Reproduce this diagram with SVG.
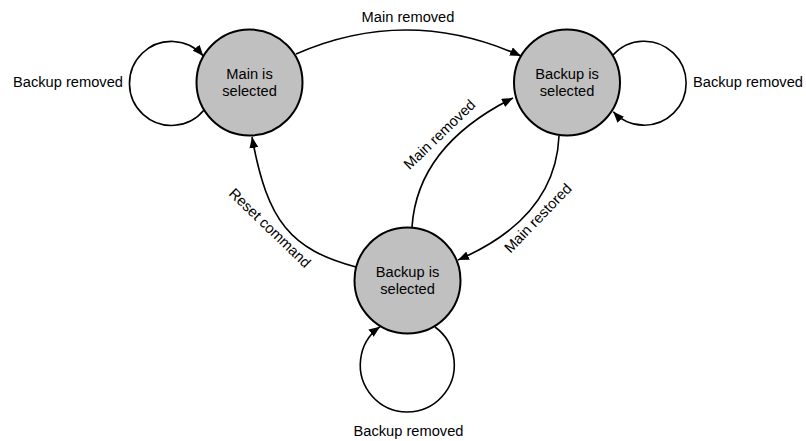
<svg xmlns="http://www.w3.org/2000/svg" width="806" height="441" viewBox="0 0 806 441">
<style>
  .node { fill: #c0c0c0; stroke: #000; stroke-width: 2; }
  .edge { fill: none; stroke: #000; stroke-width: 1.6; marker-end: url(#arrow); }
  text { font-family: "Liberation Sans", Arial, sans-serif; font-size: 14.67px; fill: #000; }
  .c { text-anchor: middle; }
</style>
<defs>
  <marker id="arrow" markerUnits="userSpaceOnUse" markerWidth="11" markerHeight="9" viewBox="0 0 11 9" refX="11" refY="4.5" orient="auto">
    <path d="M0,0 L11,4.5 L0,9 z" fill="#000"/>
  </marker>
</defs>
<rect width="806" height="441" fill="#fff"/>
<g id="connectors">
  <path class="edge" d="M296,54 Q408,5 521,56"/>
  <path class="edge" d="M356,267 C290.8,249.5 267.3,222 252,137"/>
  <path class="edge" d="M412,227 Q417.5,145.5 513,98"/>
  <path class="edge" d="M559,136 Q555.5,218 458,260"/>
  <path class="edge" d="M204,110 A42 42 0 1 1 203.3,56"/>
  <path class="edge" d="M613,55 A42 42 0 1 1 613.3,111.7"/>
  <path class="edge" d="M435,327 A47 47 0 1 1 380,326.7"/>
  <text class="c" x="408" y="22">Main removed</text>
  <text style="text-anchor:end" x="123" y="87.3">Backup removed</text>
  <text x="693" y="87.3">Backup removed</text>
  <text class="c" x="408.5" y="436">Backup removed</text>
  <text class="c" transform="translate(443,138) rotate(-44)">Main removed</text>
  <text class="c" transform="translate(541.5,221.5) rotate(-46)">Main restored</text>
  <text class="c" transform="translate(266.5,231.5) rotate(44)">Reset command</text>
</g>
<g id="main-selected">
  <circle class="node" cx="249.5" cy="82.5" r="53"/>
  <text class="c" x="249.5" y="78.5">Main is</text>
  <text class="c" x="249.5" y="95.5">selected</text>
</g>
<g id="backup-selected-top">
  <circle class="node" cx="567" cy="82.5" r="53"/>
  <text class="c" x="567" y="78.5">Backup is</text>
  <text class="c" x="567" y="95.5">selected</text>
</g>
<g id="backup-selected-bottom">
  <circle class="node" cx="407.5" cy="280.5" r="53"/>
  <text class="c" x="407.5" y="276.5">Backup is</text>
  <text class="c" x="407.5" y="293.5">selected</text>
</g>
</svg>
